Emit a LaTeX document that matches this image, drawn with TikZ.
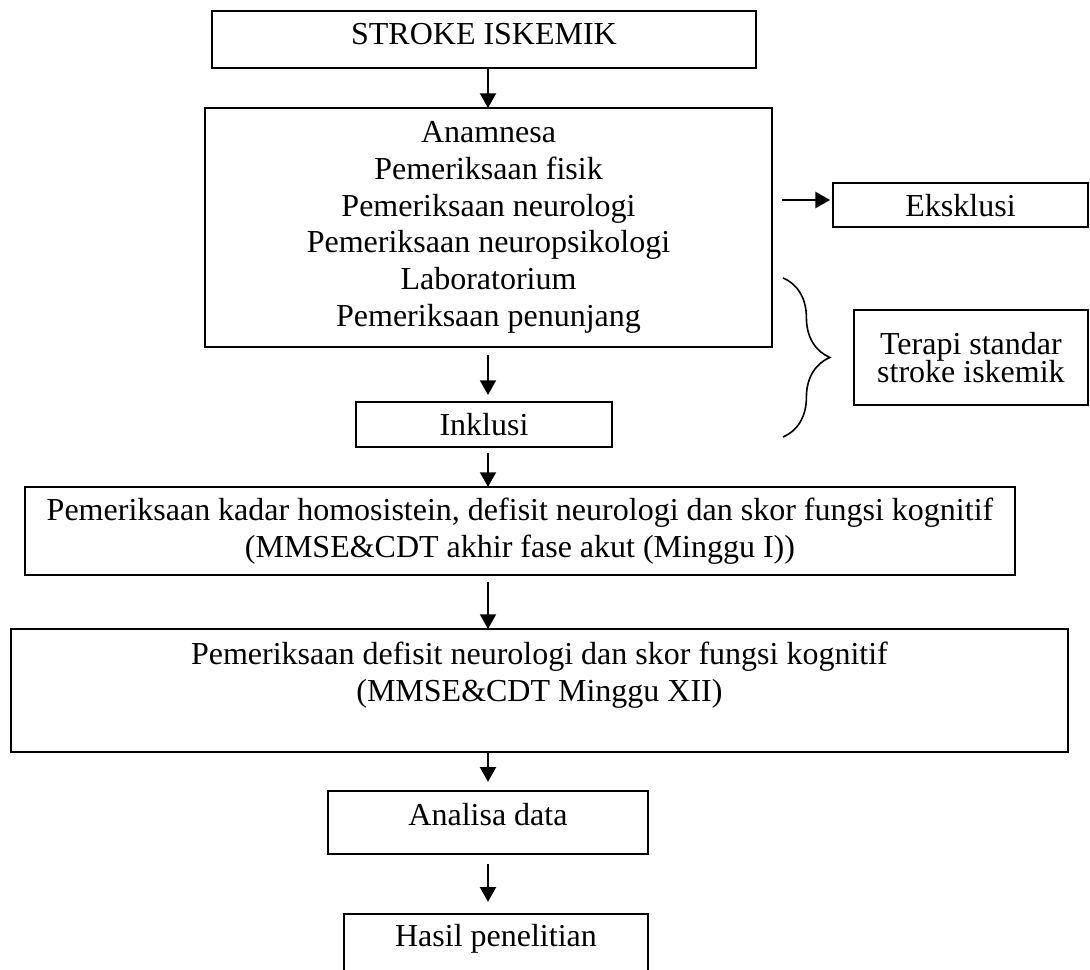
\documentclass[tikz,border=0pt]{standalone}
\usepackage{fontspec}
\setmainfont{Liberation Serif}
\usetikzlibrary{positioning,arrows.meta,decorations.pathreplacing}

\begin{document}
\begin{tikzpicture}[
    >={Triangle[length=5.5pt,width=6pt]},
    box/.style={
        draw,
        line width=0.9pt,
        inner sep=0pt,
        outer sep=0pt,
        align=center,
        font=\fontsize{12pt}{13.8pt}\selectfont
    },
    arrow/.style={->,line width=0.75pt},
    bracket/.style={decorate,decoration={brace,amplitude=17.6pt},line width=0.6pt}
]

\useasboundingbox (-181.5pt,14.8pt) rectangle (227.25pt,-348.6pt);

%------------------------------------------------
% Screening
%------------------------------------------------

\node[box,minimum width=204pt,minimum height=21.4pt,text depth=4.5pt] (stroke) {STROKE ISKEMIK};

\node[box,minimum width=212.6pt,minimum height=89.6pt,below=15pt of stroke,xshift=1.7pt] (exam)
{Anamnesa\\Pemeriksaan fisik\\Pemeriksaan neurologi\\Pemeriksaan neuropsikologi\\Laboratorium\\Pemeriksaan penunjang};

\node[box,minimum width=95.6pt,minimum height=16.5pt,right=22.9pt of exam,yshift=8.4pt] (eksklusi) {Eksklusi};

\node[box,minimum width=87.75pt,minimum height=35.6pt,below=31.1pt of eksklusi,xshift=3.9pt] (terapi)
{Terapi standar\\[-3.3pt]stroke iskemik};

\node[box,minimum width=96pt,minimum height=16.9pt,below=20.6pt of exam,xshift=-1.7pt] (inklusi) {Inklusi};

\draw[bracket] (112.1pt,-89.4pt) -- (112.1pt,-149.1pt);

%------------------------------------------------
% Follow-up
%------------------------------------------------

\node[box,minimum width=371.25pt,minimum height=33pt,below=15pt of inklusi,xshift=13.5pt] (kadar)
{Pemeriksaan kadar homosistein, defisit neurologi dan skor fungsi kognitif\\(MMSE\&CDT akhir fase akut (Minggu I))};

\node[box,minimum width=396.4pt,minimum height=46.1pt,below=20.25pt of kadar,xshift=7.3pt] (defisit)
{Pemeriksaan defisit neurologi dan skor fungsi kognitif\\(MMSE\&CDT Minggu XII)\\};

\node[box,minimum width=120pt,minimum height=23.6pt,text depth=6pt,below=14.6pt of defisit,xshift=-19.3pt] (analisa) {Analisa data};

\node[box,minimum width=114pt,minimum height=28.5pt,text depth=12pt,below=22.5pt of analisa,xshift=3pt] (hasil) {Hasil penelitian};

%------------------------------------------------
% Arrows
%------------------------------------------------

\coordinate (col) at (1.5pt,0);

\draw[arrow] (stroke.south -| col) -- (exam.north -| col);
\draw[arrow,shorten <=3pt,shorten >=2.6pt] (exam.south -| col) -- (inklusi.north -| col);
\draw[arrow,shorten <=2.25pt] (inklusi.south -| col) -- (kadar.north -| col);
\draw[arrow,shorten <=2.6pt] (kadar.south -| col) -- (defisit.north -| col);
\draw[arrow,shorten >=3.4pt] (defisit.south -| col) -- (analisa.north -| col);
\draw[arrow,shorten <=3.75pt,shorten >=4.5pt] (analisa.south -| col) -- (hasil.north -| col);
\draw[arrow,shorten <=3.75pt,shorten >=1.1pt] ([yshift=1.9pt]exam.east |- eksklusi.west) -- ([yshift=1.9pt]eksklusi.west);

\end{tikzpicture}
\end{document}
